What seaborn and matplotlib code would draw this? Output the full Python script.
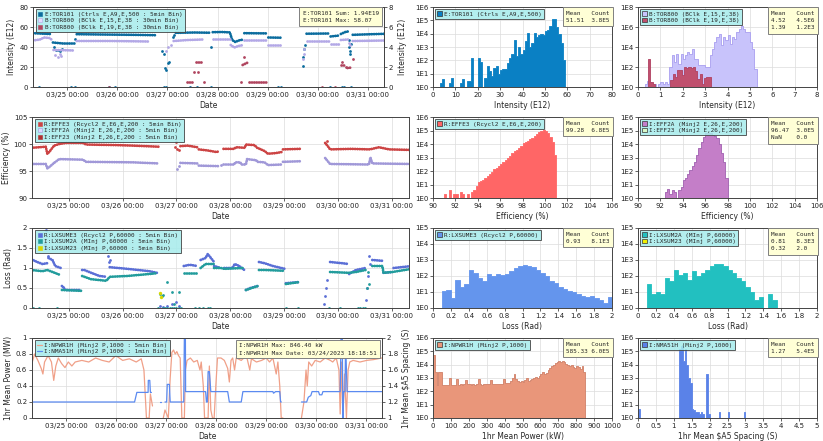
import numpy as np
import pandas as pd
import matplotlib
matplotlib.use("Agg")
import matplotlib.pyplot as plt
import matplotlib.dates as mdates
from matplotlib.lines import Line2D
from matplotlib.patches import Patch
from matplotlib.ticker import FuncFormatter, FixedLocator, NullLocator
import seaborn as sns

# ---------------- data (hours since 03/24/2023 00:00, value) ----------------
T0 = pd.Timestamp("2023-03-24 00:00")
T_START, T_END = 7.67, 175.67

# row 1 : intensity
tor101 = [(7.7, 53.8), (16.0, 53.0), None, (17.2, 44.5), (22, 43.5), (27.5, 43.5), None,
          (28.6, 52.8), (40, 52.5), (55, 52.2), (66.5, 51.8), None,
          (76.0, 54.2), (85, 54.5), (92.0, 54.3), None,
          (93.7, 54.8), (98, 55.0), (101.9, 54.6), (103.0, 47), (104.5, 45), (106, 46.5), (108.4, 47.5), None,
          (108.8, 53.8), (119.9, 53.6), None, (120.3, 49.5), (126.4, 49.3), None,
          (138.6, 53.3), (149.3, 53.5), None, (150.1, 50.5), (154.2, 51.5), None,
          (155.0, 53), (157.4, 55.2), (158.4, 55.5), None, (160.7, 52.2), (170, 52.8), (176, 53.2)]
tor101_pts = [(17.5, 40), (18.5, 37), (19.5, 37.5), (20.5, 36), (21.5, 38), (28.0, 48),
              (69.5, 36), (70.2, 33), (71, 19), (71.5, 17), (72.2, 24), (73, 25), (74.5, 50), (75.2, 52),
              (92.9, 40), (136.7, 21), (137.1, 30), (137.5, 38), (137.9, 42),
              (158.7, 47), (159.0, 40), (159.3, 36), (159.6, 33), (160.0, 43),
              (10.5, 0), (26, 0), (28, 0), (44, 0), (47, 0), (70.5, 0), (71.5, 0), (83, 0), (86, 0),
              (93, 0), (125, 0), (126.5, 0), (150, 0), (155.5, 0), (156.5, 0), (160, 0)]
tor800a = [(7.7, 4.65), (11, 4.75), (13, 4.95), (15.5, 4.9), (16.5, 4.75), None,
           (17.5, 3.7), (27.5, 3.65), None, (28.6, 4.6), (45, 4.6), (62.7, 4.55), None,
           (75.0, 4.6), (82, 4.7), (88.8, 4.75), None, (93.7, 4.85), (101.9, 4.85), None,
           (102.3, 4.2), (104, 3.95), (106, 4.1), (108.4, 4.2), None, (108.8, 4.75), (119.9, 4.75), None,
           (120.3, 4.25), (126.4, 4.25), None, (138.6, 4.65), (149.3, 4.65), None,
           (150.1, 4.35), (154.2, 4.35), None, (155.0, 4.7), (158.4, 4.75), None, (160.7, 4.6), (176, 4.65)]
tor800a_pts = [(18, 3.2), (19.5, 3.0), (20.5, 3.3), (21, 3.1), (71.5, 3.6), (72.5, 4.0), (73.5, 4.2),
               (136.8, 2.8), (137.2, 3.3), (137.6, 3.8), (159.0, 4.4), (159.5, 4.2)]
tor800b = [(81.5, 0.55), (83.9, 0.55), None, (85.6, 2.5), (88.8, 2.5), None, (108, 2.2), (110.5, 2.45), None,
           (110.9, 0.55), (119.9, 0.55), None, (155, 2.2), (157, 2.2), None, (158.2, 1.9), (160.3, 1.95)]
tor800b_pts = [(84.5, 1.5), (89.5, 0.55), (86.5, 1.5), (108.8, 3.0), (107.0, 0.55), (155.8, 2.5),
               (157.6, 2.0), (160.7, 2.8), (44, 0), (146, 0), (152, 0)]

# row 2 : efficiency
effe3 = [(7.4, 99.3), (11, 99.4), (13.8, 99.5), (14.5, 98.2), (15.3, 98.5), (17.5, 99.7), (19.8, 100.0),
         (22.8, 100.2), (30.3, 100.2), (31.8, 99.9), (45, 99.8), (52.8, 99.7), (64, 99.5), None,
         (73.8, 99.6), (77, 99.7), (81.3, 99.4), None, (82, 99.0), (86, 98.8), (90, 98.5), (91, 98.7), None,
         (93, 99.1), (97.8, 99.1), (98.5, 99.4), (102.5, 99.3), (103, 99.9), (106.8, 99.8), (108, 99.3),
         (111.3, 98.7), (112.8, 98.2), (116, 98.3), (118.8, 98.5), None, (119.5, 99.0), (127, 99.1), None,
         (138.3, 100.2), (139.5, 99.6), (140.5, 99.0), (150, 99.1), (157.8, 99.0), (159.3, 99.1),
         (162.3, 99.4), (166.8, 99.0), (177, 98.9)]
effe3_pts = [(71.5, 99.5), (72, 100.4), (72.5, 99.0), (73, 98.8), (139, 100.5)]
eff2a = [(7.4, 96.3), (13.8, 96.3), (14.5, 95.5), (15.3, 95.7), (17.5, 96.5), (19.8, 97.2), (30.3, 97.1),
         (31.8, 96.7), (52.8, 96.6), (64, 96.4), None, (73.8, 96.5), (81.3, 96.4), None,
         (82, 96.0), (91, 95.9), None, (93, 96.2), (97.8, 96.2), (98.2, 96.6), (100.5, 96.6), (101, 96.2),
         (103, 96.2), (103.5, 97.2), (107.5, 97.0), (108, 96.7), (111.3, 96.6), (112.8, 96.1), (118.8, 96.2), None,
         (119.5, 96.7), (127, 96.8), None, (138.3, 97.4), (140.5, 96.3), (157.8, 96.2), (158.5, 97.5),
         (159.3, 96.4), (177, 96.3)]
eff2a_pts = [(72.5, 95.4), (73, 96.0), (92, 96.2)]

# row 3 : loss
lxsume3 = [(7.35, 1.22), (10, 1.15), (12.3, 1.1), (14.5, 1.12), None, (15, 1.25), (16.8, 1.2), (18, 1.05),
           (20.5, 1.0), None, (21, 0.55), (22, 0.5), (22.5, 0.45), (29.5, 0.45), None,
           (30, 0.95), (31, 0.95), (34, 0.88), (37.8, 0.8), (40.8, 0.78), None,
           (42.3, 1.02), (50, 0.98), (60, 0.92), (63.3, 0.88), None, (75.3, 1.05), (78, 1.08), (81.3, 1.05), None,
           (82.8, 1.2), (85, 1.25), (86, 1.35), (88.8, 1.15), None, (88.8, 1.05), (91.8, 1.0), None,
           (93.3, 1.0), (97, 1.0), (98, 1.1), (100, 1.05), (102.3, 0.95), None,
           (103, 0.45), (105, 0.5), (108.3, 0.55), None, (108.8, 1.15), (111.3, 1.12), (115, 1.05), (120.3, 0.98), None,
           (120.8, 0.62), (127, 0.65), None, (140.5, 1.15), (145.8, 1.12), (148.8, 1.1), None,
           (149, 0.85), (152, 0.95), (156.3, 1.0), None, (159.3, 1.2), (163.8, 1.18), None,
           (164.3, 0.88), (168.3, 0.9), None, (168.8, 1.0), (177, 1.05)]
lxsume3_pts = [(13.5, 1.6), (14, 1.95), (14.5, 1.5), (15, 1.3), (41.5, 1.3), (42, 1.15), (42.5, 1.2),
               (64.5, 0.05), (66, 0.02), (68, 0.05), (70, 0.1), (72, 0.15), (73, 0.05),
               (138, 0.1), (138.3, 0.3), (138.6, 0.5), (139, 0.7),
               (156.5, 0.2), (157, 0.5), (157.5, 0.8), (158, 1.3), (158.5, 1.1)]
lxsum2a = [(7.35, 0.95), (12.3, 0.92), (14.5, 0.95), (16.8, 0.9), (20.5, 0.82), None,
           (21, 0.45), (29.5, 0.43), None, (30, 0.8), (31, 0.78), (34, 0.72), (40.8, 0.68), (42.3, 0.78),
           (50, 0.8), (60, 0.85), (63.3, 0.87), None, (75.3, 0.88), (81.3, 0.88), None,
           (82.8, 1.0), (85, 1.1), (88.8, 1.1), None, (88.8, 1.0), (91.8, 1.0), (93.3, 0.98), (102.3, 1.0), None,
           (103, 0.45), (108.3, 0.55), None, (108.8, 0.95), (111.3, 0.95), (120.3, 0.93), None,
           (120.8, 0.6), (127, 0.65), None, (140.5, 0.9), (148.8, 0.88), (152, 0.9), (156.3, 0.95), None,
           (159.3, 1.05), (163.8, 1.05), (164.3, 0.88), (168.3, 0.9), (177, 0.98)]
lxsum2a_pts = [(64.5, 0.35), (65.5, 0.3), (66, 0.32), (68, 0.65), (70, 0.4), (71, 0.1), (73, 0.4),
               (156.8, 0.5), (157.3, 0.9), (157.8, 0.6)]
loss_zero_h = [8, 11, 19, 64, 66, 67, 68, 69, 70, 71, 72, 73, 74, 80.5, 82, 84, 86, 87, 121, 126,
               140, 145, 153, 154, 155, 156]
lxsum23_pts = [(64.8, 0.38), (65.0, 0.28)]

# row 4 : power / spacing
npwr1h = [(7.6, 0.68), (8.9, 0.8), (10.5, 0.72), (12.1, 0.62), (12.9, 0.55), (13.7, 0.7), (15.4, 0.78),
          (17.0, 0.7), (18.1, 0.47), (19.1, 0.65), (20.3, 0.75), (21.9, 0.68), (23.5, 0.63), (25.1, 0.7),
          (26.8, 0.65), (28.4, 0.7), (31.6, 0.72), (34.9, 0.7), (38.2, 0.75), (41.4, 0.72), (44.7, 0.7),
          (47.9, 0.78), (51.2, 0.72), (54.4, 0.74), (57.7, 0.7), (60.1, 0.74), (61.4, 0.6), (62.6, 0.0),
          (63.9, 0.0), (64.5, 0.3), (65.5, 0.15), None,
          (70.7, 0.0), (71.5, 0.1), (72.3, 0.05), (73.1, 0.0), (74.0, 0.5), (74.8, 0.82), (75.6, 0.85),
          (76.4, 0.8), (77.2, 0.83), (78.0, 0.78), (78.8, 0.75), (79.6, 0.0), (80.8, 0.0), (81.3, 0.6),
          (82.1, 0.72), (83.7, 0.75), (85.3, 0.7), (87.0, 0.72), (88.3, 0.6), (88.9, 0.7), (89.9, 0.4),
          (90.5, 0.0), (92.2, 0.0), (92.8, 0.65), (93.5, 0.1), (94.3, 0.0), (95.1, 0.0), (95.9, 0.4),
          (96.7, 0.75), (98.4, 0.75), (100.0, 0.72), (101.6, 0.62), (102.4, 0.45), (103.2, 0.72),
          (104.0, 0.75), (104.9, 0.6), (105.7, 0.75), (108.1, 0.72), (110.6, 0.78), (112.2, 0.6),
          (113.0, 0.74), (115.4, 0.7), (117.9, 0.72), (120.1, 0.75), (121.7, 0.7), (123.3, 0.75),
          (124.9, 0.55), (125.7, 0.7), (126.6, 0.4), (127.3, 0.0), (128.1, 0.0), None,
          (137.0, 0.0), (138.2, 0.2), (139.2, 0.6), (139.8, 0.4), (140.5, 0.7), (141.9, 0.65), (143.6, 0.72),
          (146.0, 0.7), (148.4, 0.75), (150.9, 0.72), (152.0, 0.7), (153.7, 0.75), (155.0, 0.6), (155.6, 0.05),
          (156.3, 0.7), (156.9, 0.0), (157.7, 0.55), (158.6, 0.0), (159.4, 0.6), (160.2, 0.7), (161.8, 0.72),
          (165.1, 0.7), (168.3, 0.72), (171.6, 0.73), (175.6, 0.75)]
nma51h = [(7.6, 1.2), (56.9, 1.2), (58.0, 1.32), (63.4, 1.32), (63.5, 1.47), (64.2, 1.47), (64.5, 1.32),
          (65.0, 1.32), None, (69.3, 1.2), (69.6, 1.2), None,
          (71.5, 1.2), (72.3, 1.2), (72.6, 1.42), (73.6, 1.42), (74.0, 1.2), (80.5, 1.2), (80.8, 2.0), (81.3, 2.0),
          (81.4, 1.33), (91.0, 1.33), (91.4, 1.2), (91.8, 1.2), (92.2, 1.58), (92.8, 1.58), (93.5, 1.33),
          (101.6, 1.33), (102.4, 1.2), (108.1, 1.2), (108.9, 1.33), (123.3, 1.33), (123.6, 1.31),
          (124.6, 1.33), (126.6, 1.33), (127.0, 1.2), (127.3, 1.2), None,
          (137.0, 1.2), (139.5, 1.2), (140.3, 1.26), (141.5, 1.28), (142.1, 1.33), (145.2, 1.33), (145.7, 1.29),
          (146.8, 1.29), (147.3, 1.33), (155.6, 1.33), (156.0, 2.0), (156.6, 2.0), (156.9, 1.0), (157.3, 1.33),
          (157.9, 1.33), (158.2, 1.95), (158.9, 1.33), (175.6, 1.33)]

# histograms (counts per bin)
tor101_counts = [0, 0, 0, 2, 4, 0, 0, 2, 5, 0,
                 0, 0, 2, 4, 0, 3, 3, 150, 0, 0,
                 150, 80, 0, 5, 35, 15, 7, 25, 35, 10,
                 20, 22, 22, 60, 150, 300, 3500, 200, 1000, 300,
                 600, 3000, 12000, 1000, 2000, 12000, 6000, 8000, 10000, 8000,
                 15000, 20000, 40000, 120000, 120000, 30000, 10000, 2000, 100, 0]
tor800a_counts = [0, 0, 0, 2, 4, 3, 2, 2, 1, 2,
                  3, 2, 3, 2, 100, 1500, 300, 2000, 200, 2000,
                  700, 1500, 3000, 2000, 6000, 700, 700, 150, 150, 150,
                  100, 100, 1500, 6000, 30000, 100000, 200000, 15000, 100000, 50000,
                  150000, 20000, 100000, 60000, 300000, 600000, 1200000, 600000, 300000, 300000,
                  30000, 6000, 60, 0, 0]
tor800b_counts = [0, 0, 0, 0, 600, 3, 2, 0, 0, 0,
                  0, 0, 0, 0, 5, 20, 10, 50, 50, 15,
                  100, 80, 100, 80, 100, 40, 6, 20, 2, 8,
                  10, 10]
effe3_counts = [0, 0, 0, 0, 0, 2, 0, 4, 0, 2, 2, 0, 3, 2, 0, 2, 0, 3, 4, 8,
                15, 18, 22, 30, 45, 63, 90, 130, 180, 250,
                350, 500, 700, 1000, 1400, 2000, 2800, 3800, 5200, 7500,
                11000, 14000, 18000, 23000, 30000, 40000, 55000, 75000, 100000, 110000,
                95000, 60000, 35000, 15000, 1500]
eff2a_counts = [0, 0, 0, 1, 1, 1, 1, 1, 1, 1, 1, 1, 3, 5, 2, 4, 3, 1, 4, 7,
                20, 30, 60, 120, 250, 500, 1500, 5000, 15000, 35000,
                60000, 70000, 65000, 50000, 40000, 30000, 10000, 2000, 500, 30]
lxsume3_counts = [0, 0, 12, 14, 4, 60, 20, 30, 250, 150,
                  80, 50, 130, 100, 130, 110, 130, 200, 300, 450,
                  500, 450, 350, 250, 150, 100, 50, 35, 20, 15,
                  12, 10, 8, 6, 5, 6, 4, 3, 2, 5]
lxsum2a_counts = [0, 0, 30, 8, 10, 8, 80, 50, 250, 120,
                  150, 60, 200, 100, 150, 250, 400, 600, 550, 400,
                  250, 150, 80, 50, 20, 10, 3, 5, 1, 8,
                  3, 1, 1, 1, 1, 1, 1, 1, 1, 1]
lxsum23_counts = [1, 1]
npwr1h_counts = [50000, 3000, 300, 3000, 3000, 300, 300, 280, 300, 1000,
                 300, 320, 300, 800, 320, 330, 300, 330, 700, 330,
                 330, 300, 340, 320, 330, 800, 340, 320, 330, 350,
                 330, 350, 700, 350, 330, 350, 360, 380, 380, 800,
                 400, 420, 450, 600, 1000, 2000, 800, 600, 500, 600,
                 500, 700, 1000, 600, 700, 800, 1000, 1200, 1000, 1500,
                 2000, 3000, 2000, 2500, 4000, 6000, 8000, 10000, 14000, 16000,
                 18000, 17000, 18000, 15000, 12000, 10000, 8000, 9000, 7000, 6000,
                 8000, 7000, 5000, 8000, 3000]
nma51h_counts = [5, 0, 0, 0, 0, 0, 0, 0, 0, 0, 0, 0, 0, 0, 0, 0, 0, 0, 0, 0, 0, 0, 0,
                 150000, 250000, 20000, 150000, 10000, 1000, 400, 5, 4, 3, 3, 2, 3, 2, 0, 2000, 2,
                 0, 0, 0, 0, 0, 3, 0, 0, 0, 0, 3, 0, 0, 0, 0, 0, 0, 0, 0, 3]

# colours
C_TOR101, C_TOR800A, C_TOR800B = "#0b6c9e", "#b3a8e6", "#b0455f"
C_EFFE3, C_EFF2A, C_EFF23 = "#cc4444", "#a098d8", "#b03030"
C_LXE3, C_LX2A, C_LX23 = "#5b6fd6", "#229c9c", "#d8d800"
C_NPWR, C_NMA = "#f0a088", "#5b8af0"
LEG_BG, STAT_BG = "#a6ecec", "#ffffd6"
MONO = "DejaVu Sans Mono"

# ---------------- style ----------------
sns.set_theme(style="whitegrid")
plt.rcParams["font.family"] = ["DejaVu Sans"]
plt.rcParams["axes.edgecolor"] = "#444444"
plt.rcParams["axes.linewidth"] = 0.7
plt.rcParams["grid.color"] = "#dcdcdc"
plt.rcParams["grid.linewidth"] = 0.5

fig = plt.figure(figsize=(8.23, 4.41), dpi=100)


def px_axes(x0, y0, x1, y1):
    return fig.add_axes([x0 / 823, 1 - y1 / 441, (x1 - x0) / 823, (y1 - y0) / 441])


def frame(pairs):
    rows, seg = [], 0
    for p in pairs:
        if p is None:
            seg += 1
            continue
        rows.append((T0 + pd.Timedelta(hours=p[0]), p[1], seg))
    return pd.DataFrame(rows, columns=["t", "v", "seg"])


def dots(ax, pairs, color, lw=2.0):
    sns.lineplot(data=frame(pairs), x="t", y="v", units="seg", estimator=None, sort=False,
                 color=color, lw=lw, ls=(0, (0.1, 0.75)), dash_capstyle="round", ax=ax, legend=False)


def line(ax, pairs, color, lw=0.9):
    sns.lineplot(data=frame(pairs), x="t", y="v", units="seg", estimator=None, sort=False,
                 color=color, lw=lw, ax=ax, legend=False)


def pts(ax, pairs, color, s=4):
    sns.scatterplot(data=frame(pairs), x="t", y="v", color=color, s=s, linewidth=0, ax=ax, legend=False)


def style(ax):
    ax.set_facecolor("white")
    for sp in ax.spines.values():
        sp.set_visible(True)
        sp.set_color("#444444")
        sp.set_linewidth(0.7)
    ax.tick_params(labelsize=5, length=2, width=0.5, pad=1.5, colors="#222222",
                   bottom=True, left=True)
    ax.grid(True, color="#dcdcdc", lw=0.5)


def ts_axis(ax, ylabel, ylim, yticks):
    style(ax)
    ax.set_xlim(T0 + pd.Timedelta(hours=T_START), T0 + pd.Timedelta(hours=T_END))
    ax.xaxis.set_major_locator(mdates.DayLocator())
    ax.xaxis.set_major_formatter(mdates.DateFormatter("%m/%d %H:%M"))
    ax.set_ylim(*ylim)
    ax.set_yticks(yticks)
    ax.yaxis.set_major_formatter(FuncFormatter(lambda v, p: f"{v:g}"))
    ax.set_xlabel("Date", fontsize=5.5, labelpad=2)
    ax.set_ylabel(ylabel, fontsize=5.5, labelpad=2)


def twin(ax, ylabel, ylim, yticks):
    ax2 = ax.twinx()
    ax2.set_ylim(*ylim)
    ax2.set_yticks(yticks)
    ax2.yaxis.set_major_formatter(FuncFormatter(lambda v, p: f"{v:g}"))
    ax2.grid(False)
    ax2.tick_params(labelsize=5, length=2, width=0.5, pad=1.5, right=True, colors="#222222")
    ax2.set_ylabel(ylabel, fontsize=5.5, labelpad=3)
    ax2.set_xlabel("")
    return ax2


def legend(ax, handles, labels):
    lg = ax.legend(handles, labels, loc="upper left", bbox_to_anchor=(0.005, 0.985),
                   prop={"family": MONO, "size": 4.3}, facecolor=LEG_BG, edgecolor="#404040",
                   framealpha=0.85, fancybox=False, borderpad=0.35, labelspacing=0.25,
                   handlelength=0.8, handletextpad=0.4, borderaxespad=0.2)
    lg.get_frame().set_linewidth(0.7)
    lg.set_zorder(20)


def stats(ax, text, x=0.985, y=0.955):
    ax.text(x, y, text, transform=ax.transAxes, ha="right", va="top", multialignment="left",
            family=MONO, size=4.3, zorder=21, linespacing=1.6,
            bbox=dict(boxstyle="square,pad=0.55", facecolor=STAT_BG, edgecolor="#808080", lw=0.7))


def mk(color, face=None):
    return Line2D([], [], ls="", marker="s", markersize=2.4, markerfacecolor=face or color,
                  markeredgecolor=color, markeredgewidth=0.4)


def hist(ax, lo, hi, counts, color, edge=None, alpha=1.0):
    edges = np.linspace(lo, hi, len(counts) + 1)
    df = pd.DataFrame({"x": (edges[:-1] + edges[1:]) / 2, "w": counts})
    sns.histplot(data=df, x="x", weights="w", bins=list(edges), element="step", fill=True, color=color,
                 alpha=alpha, edgecolor=edge or color, linewidth=0.6, ax=ax)


def hist_axis(ax, xlabel, xlim, xticks, top):
    style(ax)
    ax.set_yscale("log")
    ax.set_ylim(1, 10 ** top)
    step = 2 if top > 6 else 1
    ax.yaxis.set_major_locator(FixedLocator([10.0 ** k for k in range(0, top + 1, step)]))
    ax.yaxis.set_minor_locator(NullLocator())
    ax.yaxis.set_major_formatter(FuncFormatter(lambda v, p: f"1E{int(round(np.log10(v)))}"))
    ax.set_xlim(*xlim)
    ax.set_xticks(xticks)
    ax.xaxis.set_major_formatter(FuncFormatter(lambda v, p: f"{v:g}"))
    ax.set_xlabel(xlabel, fontsize=5.5, labelpad=2)
    ax.set_ylabel("")


def patch(color, edge="#333333"):
    return Patch(facecolor=color, edgecolor=edge, lw=0.5)


# ---------------- row 1 ----------------
ax = px_axes(33, 7, 384, 87)
dots(ax, tor101, C_TOR101)
pts(ax, tor101_pts, C_TOR101)
ts_axis(ax, "Intensity (E12)", (0, 80), [0, 20, 40, 60, 80])
ax2 = twin(ax, "Intensity (E12)", (0, 8), [0, 2, 4, 6, 8])
dots(ax2, tor800a, C_TOR800A)
pts(ax2, tor800a_pts, C_TOR800A)
dots(ax2, tor800b, C_TOR800B)
pts(ax2, tor800b_pts, C_TOR800B)
ax2.set_ylabel("Intensity (E12)", fontsize=5.5, labelpad=3)
ax2.set_xlabel("")
ax.set_xlabel("Date", fontsize=5.5, labelpad=2)
legend(ax2, [mk(C_TOR101), mk(C_TOR800A, "#e4dcff"), mk(C_TOR800B)],
       ["E:TOR101 (Ctrls E,A9,E,500 : 5min Bin)", "B:TOR800 (BClk E,15,E,38 : 30min Bin)",
        "B:TOR800 (BClk E,19,E,38 : 30min Bin)"])
stats(ax2, "E:TOR101 Sum: 1.94E19\nE:TOR101 Max: 58.07")

h = px_axes(433, 7, 612, 87)
hist(h, 0, 60, tor101_counts, "#0a80c4")
hist_axis(h, "Intensity (E12)", (0, 80), range(0, 81, 10), 6)
legend(h, [patch("#0a80c4")], ["E:TOR101 (Ctrls E,A9,E,500)"])
stats(h, "Mean   Count\n51.51  3.8E5")

h = px_axes(638, 7, 817, 87)
hist(h, 0, 5.5, tor800a_counts, "#c8c3fb", edge="#a99ff0")
hist(h, 0.05, 3.25, tor800b_counts, "#c0506e", edge="#b04060")
hist_axis(h, "Intensity (E12)", (0, 8), range(0, 9), 8)
legend(h, [patch("#c8c3fb"), patch("#c0506e")], ["B:TOR800 (BClk E,15,E,38)", "B:TOR800 (BClk E,19,E,38)"])
stats(h, "Mean   Count\n4.52   4.5E6\n1.39   1.2E3")

# ---------------- row 2 ----------------
ax = px_axes(32, 117, 409, 198)
dots(ax, eff2a, C_EFF2A)
pts(ax, eff2a_pts, C_EFF2A)
dots(ax, effe3, C_EFFE3)
pts(ax, effe3_pts, C_EFFE3)
ts_axis(ax, "Efficiency (%)", (90, 105), [90, 95, 100, 105])
legend(ax, [mk(C_EFFE3), mk(C_EFF2A, "#dcd8ff"), mk(C_EFF23)],
       ["R:EFFE3 (Rcycl2 E,E6,E,200 : 5min Bin)", "I:EFF2A (Minj2 E,26,E,200 : 5min Bin)",
        "I:EFF23 (Minj2 E,26,E,200 : 5min Bin)"])

h = px_axes(433, 117, 612, 198)
hist(h, 90, 101, effe3_counts, "#ff6666")
hist_axis(h, "Efficiency (%)", (90, 106), range(90, 107, 2), 6)
legend(h, [patch("#ff6666")], ["R:EFFE3 (Rcycl2 E,E6,E,200)"])
stats(h, "Mean   Count\n99.28  6.8E5")

h = px_axes(638, 117, 817, 198)
hist(h, 90, 98, eff2a_counts, "#c47ec8", edge="#a060b0")
hist_axis(h, "Efficiency (%)", (90, 106), range(90, 107, 2), 6)
legend(h, [patch("#c47ec8"), patch("#d8f8c8")], ["I:EFF2A (Minj2 E,26,E,200)", "I:EFF23 (Minj2 E,26,E,200)"])
stats(h, "Mean   Count\n96.47  3.0E5\nNaN    0.0")

# ---------------- row 3 ----------------
ax = px_axes(32, 228, 409, 308)
dots(ax, lxsume3, C_LXE3)
pts(ax, lxsume3_pts, C_LXE3)
dots(ax, lxsum2a, C_LX2A)
pts(ax, lxsum2a_pts, C_LX2A)
pts(ax, [(hh, 0.0) for hh in loss_zero_h], C_LX2A)
pts(ax, lxsum23_pts, C_LX23, s=6)
ts_axis(ax, "Loss (Rad)", (0, 2), [0, 0.5, 1, 1.5, 2])
legend(ax, [mk(C_LXE3), mk(C_LX2A), mk(C_LX23)],
       ["R:LXSUME3 (Rcycl2 P,60000 : 5min Bin)", "I:LXSUM2A (MInj P,60000 : 5min Bin)",
        "I:LXSUM23 (MInj P,60000 : 5min Bin)"])

h = px_axes(433, 228, 612, 308)
hist(h, 0, 2, lxsume3_counts, "#6495ed")
hist_axis(h, "Loss (Rad)", (0, 2), np.round(np.arange(0, 2.01, 0.2), 1), 5)
legend(h, [patch("#6495ed")], ["R:LXSUME3 (Rcycl2 P,60000)"])
stats(h, "Mean   Count\n0.93   8.1E3")

h = px_axes(638, 228, 817, 308)
hist(h, 0, 2, lxsum2a_counts, "#22c0c0")
hist(h, 0.25, 0.35, lxsum23_counts, "#f0f000")
hist_axis(h, "Loss (Rad)", (0, 2), np.round(np.arange(0, 2.01, 0.2), 1), 5)
legend(h, [patch("#22c0c0"), patch("#f0f000")], ["I:LXSUM2A (MInj P,60000)", "I:LXSUM23 (MInj P,60000)"])
stats(h, "Mean   Count\n0.81   8.3E3\n0.32   2.0")

# ---------------- row 4 ----------------
ax = px_axes(32, 338, 382, 418)
line(ax, npwr1h, C_NPWR)
ts_axis(ax, "1hr Mean Power (MW)", (0, 1), [0, 0.2, 0.4, 0.6, 0.8, 1])
ax2 = twin(ax, r"1hr Mean \$A5 Spacing (S)", (1, 2), [1, 1.2, 1.4, 1.6, 1.8, 2])
line(ax2, nma51h, C_NMA)
ax2.set_ylabel(r"1hr Mean \$A5 Spacing (S)", fontsize=5.5, labelpad=3)
ax2.set_xlabel("")
ax.set_xlabel("Date", fontsize=5.5, labelpad=2)
legend(ax2, [Line2D([], [], color=C_NPWR, lw=0.9), Line2D([], [], color=C_NMA, lw=0.9)],
       ["I:NPWR1H (Minj2 P,1000 : 5min Bin)", "I:NMA51H (Minj2 P,1000 : 1min Bin)"])
stats(ax2, "I:NPWR1H Max: 846.40 kW\nI:NPWR1H Max Date: 03/24/2023 18:18:51", x=0.985, y=0.94)

h = px_axes(433, 338, 612, 418)
hist(h, 0, 850, npwr1h_counts, "#e9967a", edge="#d08068")
hist_axis(h, "1hr Mean Power (kW)", (0, 1000), range(0, 1001, 100), 6)
legend(h, [patch("#e9967a")], ["I:NPWR1H (Minj2 P,1000)"])
stats(h, "Mean   Count\n585.33 6.0E5")

h = px_axes(638, 338, 817, 418)
hist(h, 0, 3, nma51h_counts, "#5a82e8")
hist_axis(h, r"1hr Mean \$A5 Spacing (S)", (0, 5), np.arange(0, 5.01, 0.5), 6)
legend(h, [patch("#5a82e8")], ["I:NMA51H (Minj2 P,1000)"])
stats(h, "Mean   Count\n1.27   5.4E5")

fig.savefig("out.png", dpi=100)
